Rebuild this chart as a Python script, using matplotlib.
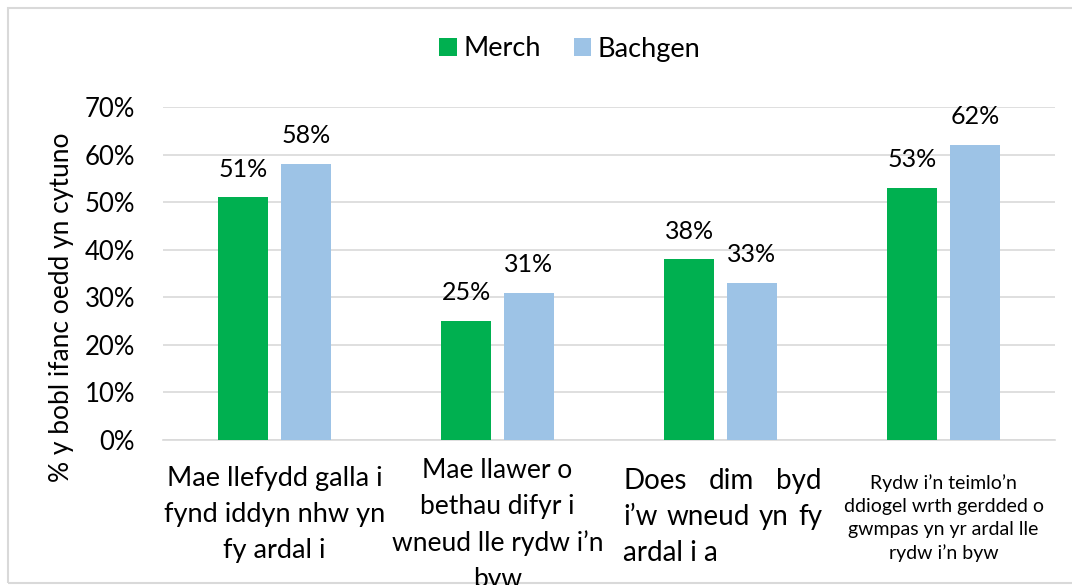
import matplotlib
matplotlib.use("Agg")
import matplotlib.pyplot as plt
from matplotlib.patches import Rectangle
import numpy as np

categories = [
    "Mae llefydd galla i\nfynd iddyn nhw yn\nfy ardal i",
    "Mae llawer o\nbethau difyr i\nwneud lle rydw i\u2019n\nbyw",
    "Does dim byd\ni\u2019w wneud yn fy\nardal i a",
    "Rydw i\u2019n teimlo\u2019n\nddiogel wrth gerdded o\ngwmpas yn yr ardal lle\nrydw i\u2019n byw",
]
series_names = ["Merch", "Bachgen"]
merch = [51, 25, 38, 53]
bachgen = [58, 31, 33, 62]
yticks = [0, 10, 20, 30, 40, 50, 60, 70]
ylabel = "% y bobl ifanc oedd yn cytuno"

GREEN = "#00B050"
BLUE = "#9DC3E6"
FONT = "Lato"
plt.rcParams["font.family"] = [FONT, "DejaVu Sans"]

W, H = 1072, 585
fig = plt.figure(figsize=(W / 100, H / 100), dpi=100)
fig.patch.set_facecolor("white")

L, R, T, B = 163, 1055, 107, 440
ax = fig.add_axes([L / W, 1 - B / H, (R - L) / W, (B - T) / H])

x = np.arange(len(categories))
bw = 0.224
off = 0.141
b1 = ax.bar(x - off, merch, bw, color=GREEN, label=series_names[0], zorder=3)
b2 = ax.bar(x + off, bachgen, bw, color=BLUE, label=series_names[1], zorder=3)

for bars in (b1, b2):
    ax.bar_label(bars, labels=[f"{v:.0f}%" for v in bars.datavalues],
                 padding=12, fontsize=18, color="#000000")

ax.set_xlim(-0.5, len(categories) - 0.5)
ax.set_ylim(0, 70)
ax.set_yticks(yticks)
ax.set_yticklabels([f"{t}%" for t in yticks], fontsize=18.5)
ax.tick_params(axis="y", length=0, pad=20)
ax.set_xticks([])
ax.yaxis.grid(True, color="#D9D9D9", linewidth=1.2, zorder=0)
ax.set_axisbelow(True)
for s in ["top", "right", "left"]:
    ax.spines[s].set_visible(False)
ax.spines["bottom"].set_color("#D9D9D9")
ax.spines["bottom"].set_linewidth(1.2)

fig.text(62 / W, 1 - 307 / H, ylabel, rotation=90, fontsize=19,
         ha="center", va="center")

# category labels
xt = ax.get_xaxis_transform()
ax.text(0, -0.078, categories[0], transform=xt, ha="center", va="top",
        fontsize=19.5, linespacing=1.56, multialignment="center")
ax.text(1, -0.055, categories[1], transform=xt, ha="center", va="top",
        fontsize=19, linespacing=1.54, multialignment="center")
ax.text(3, -0.103, categories[3], transform=xt, ha="center", va="top",
        fontsize=14, linespacing=1.42, multialignment="center")

# justified third label
fig.canvas.draw()
renderer = fig.canvas.get_renderer()
lines3 = categories[2].split("\n")
left_px, right_px = 623, 822
fs3 = 20
line_h = 36
top_px = 468
for li, line in enumerate(lines3):
    words = line.split(" ")
    ypx = top_px + li * line_h
    yfig = 1 - ypx / H
    if li == len(lines3) - 1:
        fig.text(left_px / W, yfig, line, fontsize=fs3, ha="left", va="top")
        continue
    ts = [fig.text(0, yfig, w, fontsize=fs3, ha="left", va="top") for w in words]
    widths = [t.get_window_extent(renderer).width for t in ts]
    gap = (right_px - left_px - sum(widths)) / (len(words) - 1)
    cur = left_px
    for t, wd in zip(ts, widths):
        t.set_x(cur / W)
        cur += wd + gap

# legend
fig.legend(handles=[b1, b2], labels=series_names, loc="center",
           bbox_to_anchor=(570 / W, 1 - 49 / H), ncol=2, frameon=False,
           fontsize=19.5, handlelength=0.65, handleheight=0.65,
           handletextpad=0.25, columnspacing=1.2)

# outer border (right side cropped)
fig.patches.append(Rectangle((7.5 / W, 1 - 583 / H), (W + 10 - 7.5) / W,
                             (583 - 7.5) / H, transform=fig.transFigure,
                             fill=False, edgecolor="#D9D9D9", linewidth=1.5,
                             zorder=-1))

fig.savefig("out.png", dpi=100)
